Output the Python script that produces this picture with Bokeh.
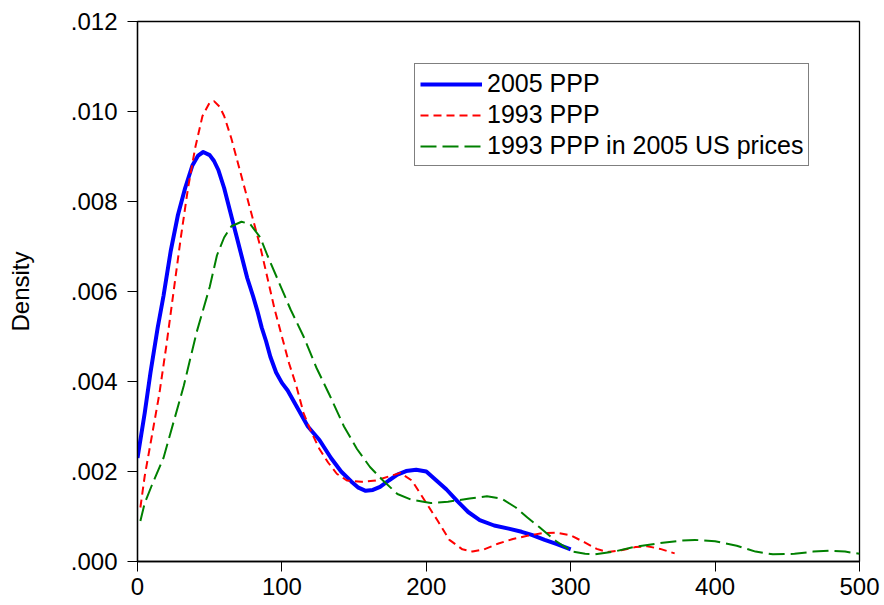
from bokeh.plotting import figure
from bokeh.models import Range1d, FixedTicker, CustomJSTickFormatter, Legend, LegendItem
from bokeh.embed import file_html
from bokeh.resources import INLINE

# ---- data ----
x_2005 = [0, 5, 9, 14, 18, 23, 28, 33, 38, 42, 45.5, 50, 53, 56, 60, 64, 68, 72, 76, 80, 83,
          86, 89, 92, 96, 100, 104, 111, 118, 126, 134, 141, 148, 153, 158, 163, 168, 174,
          180, 186, 193, 200, 207, 214, 221, 229, 237, 247, 257, 266, 273, 282, 290, 300]
y_2005 = [0.0023, 0.0033, 0.0042, 0.0052, 0.0059, 0.0069, 0.0077, 0.0083, 0.0088, 0.00902,
          0.0091, 0.00903, 0.0089, 0.0087, 0.0083, 0.0078, 0.0073, 0.0068, 0.0063, 0.0059,
          0.00557, 0.0052, 0.0049, 0.00455, 0.0042, 0.00397, 0.0038, 0.0034, 0.0030, 0.0027,
          0.0023, 0.0020, 0.00178, 0.00164, 0.00157, 0.00159, 0.00166, 0.0018, 0.00193,
          0.00201, 0.00204, 0.0020, 0.0018, 0.0016, 0.00136, 0.0011, 0.00092, 0.0008, 0.00073,
          0.00066, 0.00059, 0.00048, 0.00039, 0.00027]

x_1993 = [2, 5, 10, 15, 20, 25, 30, 35, 40, 45, 50, 53, 57, 60, 65, 70, 75, 80, 85, 90, 95,
          100, 105, 110, 115, 120, 126, 132, 138, 145, 155, 165, 175, 182, 190, 200, 208,
          216, 225, 232, 240, 250, 260, 270, 280, 290, 300, 310, 318, 325, 335, 345, 353,
          362, 372]
y_1993 = [0.0012, 0.0019, 0.0028, 0.0037, 0.0048, 0.0060, 0.0072, 0.0083, 0.0092, 0.0099,
          0.0102, 0.01023, 0.0101, 0.0099, 0.0094, 0.0088, 0.0082, 0.0076, 0.0070, 0.0063,
          0.0056, 0.0050, 0.0044, 0.0039, 0.0033, 0.0029, 0.0025, 0.0022, 0.00195, 0.0018,
          0.00177, 0.0018, 0.0019, 0.00197, 0.0018, 0.0013, 0.0009, 0.00048, 0.00027, 0.00022,
          0.00027, 0.0004, 0.0005, 0.00057, 0.00063, 0.00064, 0.00058, 0.00042, 0.00028,
          0.00021, 0.00025, 0.00032, 0.00034, 0.00028, 0.00018]

x_1993us = [2, 5, 10, 18, 25, 32, 41, 50, 55, 60, 65, 72, 78, 85, 90, 98, 106, 115, 124, 133,
            143, 152, 161, 170, 180, 190, 203, 215, 230, 242, 252, 262, 270, 278, 290, 301,
            310, 317, 330, 345, 360, 375, 386, 400, 415, 428, 440, 455, 468, 479, 490, 500]
y_1993us = [0.0009, 0.0013, 0.0017, 0.0023, 0.0031, 0.0039, 0.0051, 0.0061, 0.0068, 0.0072,
            0.00745, 0.00755, 0.0075, 0.0072, 0.0068, 0.0062, 0.0056, 0.0050, 0.0043, 0.0037,
            0.0030, 0.0025, 0.0021, 0.0018, 0.0015, 0.00137, 0.0013, 0.00133, 0.0014, 0.00145,
            0.0014, 0.0012, 0.00098, 0.00077, 0.00045, 0.00022, 0.00017, 0.00016, 0.00022,
            0.00033, 0.0004, 0.00046, 0.00048, 0.00045, 0.00035, 0.00022, 0.00016, 0.00017,
            0.00022, 0.00024, 0.00022, 0.00017]

x_ticks = [0, 100, 200, 300, 400, 500]
y_ticks = [0.0, 0.002, 0.004, 0.006, 0.008, 0.010, 0.012]
series_names = ["2005 PPP", "1993 PPP", "1993 PPP in 2005 US prices"]

FONT = "Liberation Sans"

p = figure(width=884, height=605, output_backend="svg", toolbar_location=None,
           x_range=Range1d(0, 500), y_range=Range1d(0, 0.012),
           min_border_left=137, min_border_right=25, min_border_top=21, min_border_bottom=44)
p.background_fill_color = "white"
p.border_fill_color = "white"
p.outline_line_color = "black"
p.outline_line_width = 1.3
p.xgrid.visible = False
p.ygrid.visible = False

for ax in (p.xaxis[0], p.yaxis[0]):
    ax.axis_line_color = "black"
    ax.axis_line_width = 1.3
    ax.major_tick_line_color = "black"
    ax.major_tick_line_width = 1
    ax.major_tick_out = 10
    ax.major_tick_in = 0
    ax.minor_tick_line_color = None
    ax.major_label_text_font = FONT
    ax.major_label_text_color = "black"
    ax.major_label_text_font_size = "24px"

p.xaxis.ticker = FixedTicker(ticks=x_ticks)
p.yaxis.ticker = FixedTicker(ticks=y_ticks)
p.xaxis.major_label_standoff = 6
p.yaxis.major_label_standoff = 10
p.yaxis.formatter = CustomJSTickFormatter(code="return tick.toFixed(3).replace(/^0/, '');")
p.yaxis.axis_label = "Density"
p.yaxis.axis_label_text_font = FONT
p.yaxis.axis_label_text_font_style = "normal"
p.yaxis.axis_label_text_font_size = "24px"
p.yaxis.axis_label_text_color = "black"
p.yaxis.axis_label_standoff = 34

r1 = p.line(x_2005, y_2005, line_color="#0000FF", line_width=4, line_join="round")
r2 = p.line(x_1993, y_1993, line_color="#FF0000", line_width=2, line_dash="8 5")
r3 = p.line(x_1993us, y_1993us, line_color="#008000", line_width=2, line_dash="16 6")

legend = Legend(items=[LegendItem(label=series_names[0], renderers=[r1]),
                       LegendItem(label=series_names[1], renderers=[r2]),
                       LegendItem(label=series_names[2], renderers=[r3])],
                location=(277, 395))
legend.border_line_color = "black"
legend.border_line_width = 1
legend.background_fill_color = "white"
legend.background_fill_alpha = 1
legend.label_text_font = FONT
legend.label_text_font_size = "25px"
legend.label_text_color = "black"
legend.glyph_width = 62
legend.glyph_height = 28
legend.label_height = 28
legend.label_standoff = 5
legend.padding = 5
legend.spacing = 2
legend.margin = 0
p.add_layout(legend, "center")

open("out.html", "w").write(file_html(p, INLINE))
